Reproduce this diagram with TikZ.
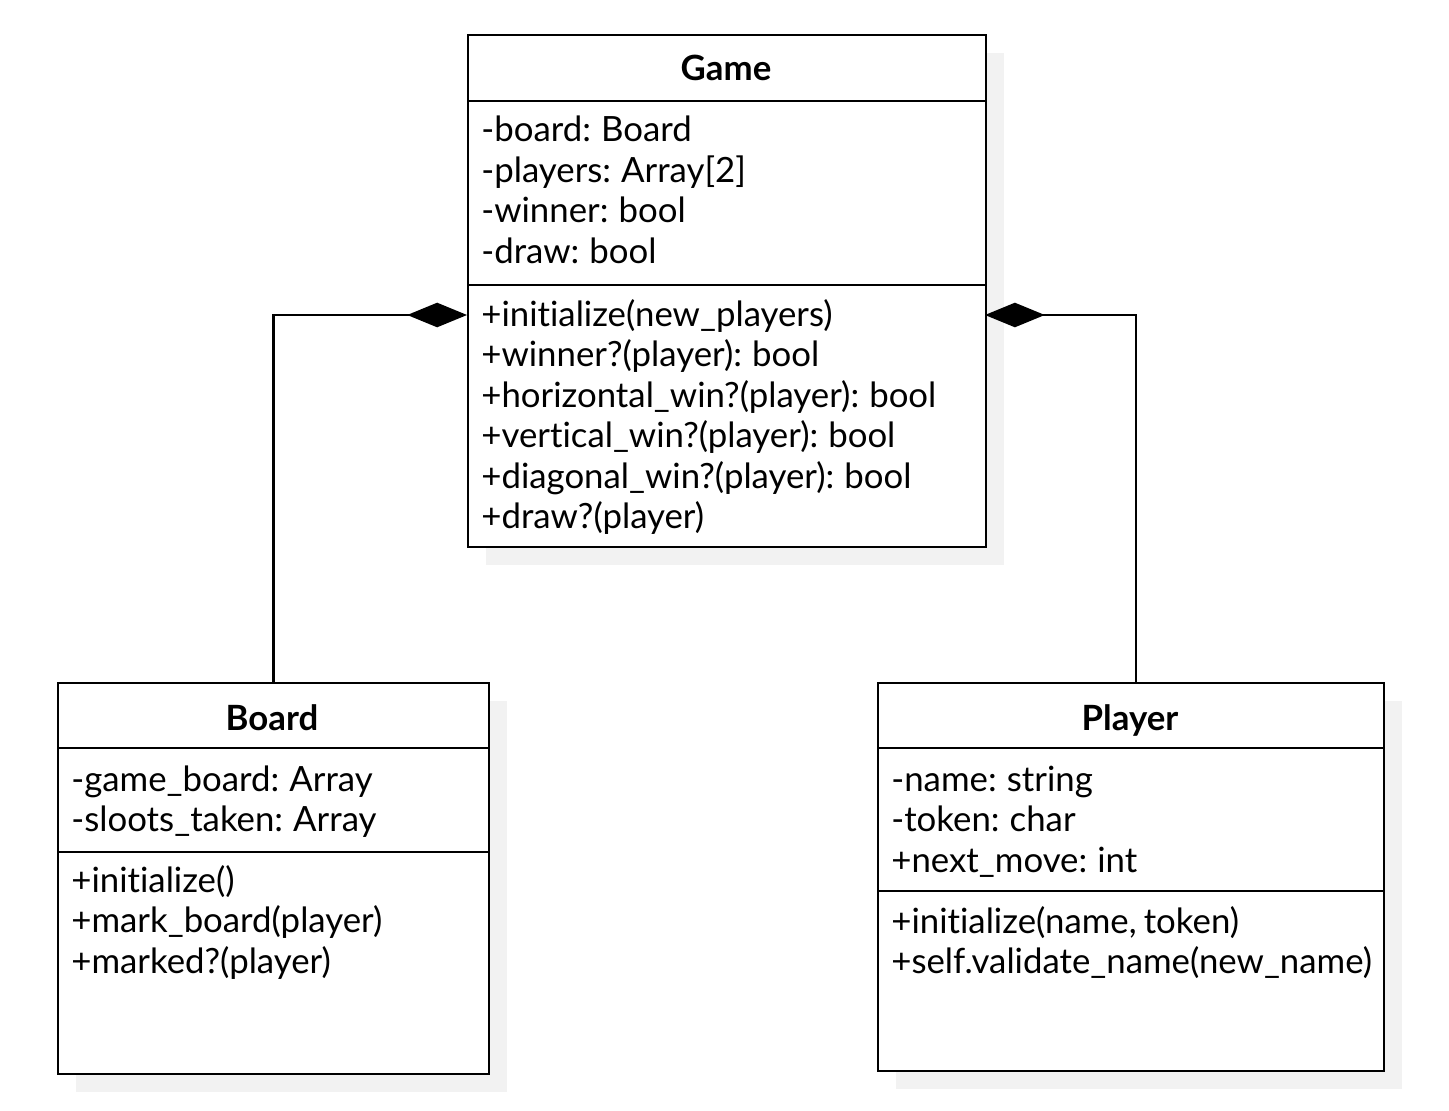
\documentclass[tikz,border=0pt]{standalone}
\usepackage{fontspec}
\setmainfont{Lato}[Ligatures=NoCommon, WordSpace=0.8]
\usetikzlibrary{positioning,arrows.meta,shadows}
\definecolor{shadowgray}{HTML}{F2F2F2}

\begin{document}
\begin{tikzpicture}[
    x = 0.02cm, y = -0.02cm, % one unit is one pixel of the reference
    every node/.style = {font=\fontsize{19.8}{24}\selectfont},
    classbox/.style = {
        draw = black,
        line width = 1.4pt,
        fill = white,
        anchor = north west,
        inner sep = 0pt,
        drop shadow = {shadow xshift=0.36cm, shadow yshift=-0.36cm,
                       fill=shadowgray, opacity=1}
    },
    divider/.style = {line width = 1.4pt},
    title/.style = {anchor = base, font=\fontsize{19.8}{24}\selectfont\bfseries},
    member/.style = {anchor = base west, inner sep = 0pt},
    comp/.style = {line width = 1.4pt, -{Diamond[length=34pt,width=14pt]}}
    ]
    \useasboundingbox (0,0) rectangle (1449,1111);

    % class boxes
    \node[classbox, minimum width=10.36cm, minimum height=10.24cm] (game) at (467,34) {};
    \node[classbox, minimum width=8.62cm, minimum height=7.82cm] (board) at (57,682) {};
    \node[classbox, minimum width=10.12cm, minimum height=7.76cm] (player) at (877,682) {};

    \draw[divider] (game.north west) ++(0,67) -- ++(518,0);
    \draw[divider] (game.north west) ++(0,251) -- ++(518,0);
    \draw[divider] (board.north west) ++(0,66) -- ++(431,0);
    \draw[divider] (board.north west) ++(0,170) -- ++(431,0);
    \draw[divider] (player.north west) ++(0,66) -- ++(506,0);
    \draw[divider] (player.north west) ++(0,209) -- ++(506,0);

    % Game
    \node[title] (gtitle) at (726,81) {Game};
    \foreach \txt [count=\i from 0] in {-board: Board, -players: Array[2],
        -winner: bool, -draw: bool}
        \node[member] (gattr\i) at (481,{142+40.5*\i}) {\txt};
    \foreach \txt [count=\i from 0] in {+initialize(new\_players),
        +winner?(player): bool, +horizontal\_win?(player): bool,
        +vertical\_win?(player): bool, +diagonal\_win?(player): bool,
        +draw?(player)}
        \node[member] (gop\i) at (481,{326+40.5*\i}) {\txt};

    % Board
    \node[title] (btitle) at (272,730) {Board};
    \foreach \txt [count=\i from 0] in {-game\_board: Array, -sloots\_taken: Array}
        \node[member] (battr\i) at (71,{791+40.5*\i}) {\txt};
    \foreach \txt [count=\i from 0] in {+initialize(), +mark\_board(player),
        +marked?(player)}
        \node[member] (bop\i) at (71,{892+40.5*\i}) {\txt};

    % Player
    \node[title] (ptitle) at (1130,730) {Player};
    \foreach \txt [count=\i from 0] in {-name: string, -token: char,
        +next\_move: int}
        \node[member] (pattr\i) at (891,{791+40.5*\i}) {\txt};
    \foreach \txt [count=\i from 0] in {{+initialize(name, token)},
        +self.validate\_name(new\_name)}
        \node[member] (pop\i) at (891,{933+40.5*\i}) {\txt};

    % compositions
    \coordinate (gleft) at (467,315);
    \coordinate (gright) at (985,315);
    \coordinate (ptop) at (1136,682);
    \draw[comp] (board.north) |- (gleft);
    \draw[comp] (ptop) |- (gright);
\end{tikzpicture}
\end{document}
